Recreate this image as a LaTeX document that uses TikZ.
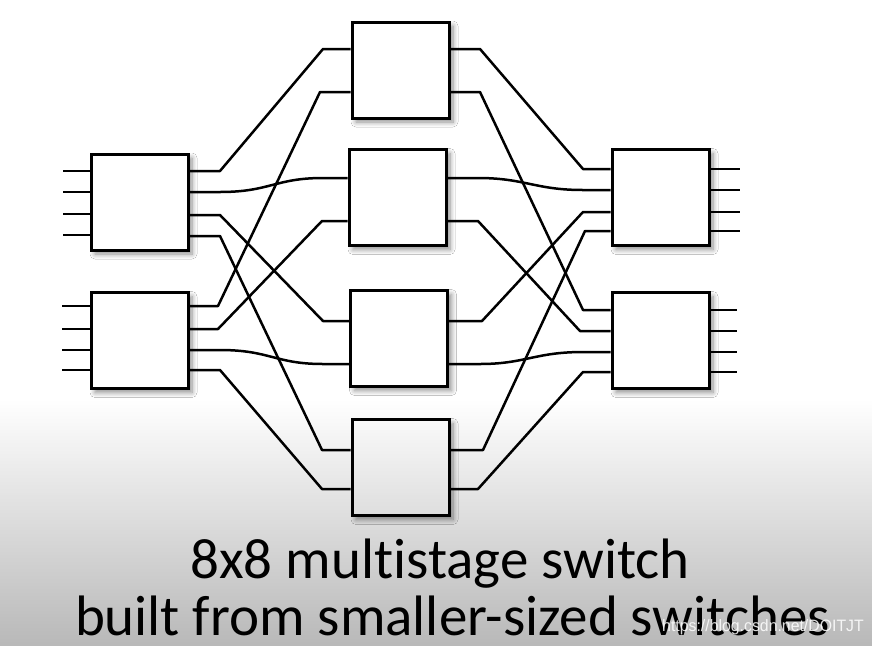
\documentclass[tikz,border=0pt]{standalone}
\usepackage{fontspec}
\setmainfont[Ligatures=NoCommon]{Carlito}
\newfontfamily\wmfont{Liberation Sans}
\usetikzlibrary{shadows.blur,fadings}
\tikzfading[name=fadedown, top color=transparent!100, bottom color=transparent!0]
\begin{document}
\begin{tikzpicture}[x=1pt,y=-1pt,
  swbox/.style={draw=black, line width=3pt, fill=white, minimum width=97pt, minimum height=96pt, inner sep=0pt,
    blur shadow={shadow xshift=4pt, shadow yshift=-4pt, shadow blur steps=8, shadow opacity=45, shadow blur radius=5pt}},
  wire/.style={line width=2.5pt, line join=round},
  caption/.style={font=\fontsize{57}{62}\selectfont, anchor=base, inner sep=0pt}]
\useasboundingbox (0,0) rectangle (872,646);
\fill[white] (0,0) rectangle (872,646);
% switches
\node[swbox] (L1) at (139.5,202) {};
\node[swbox] (L2) at (139.5,340.5) {};
\node[swbox] (M1) at (400.5,70) {};
\node[swbox] (M2) at (397.5,197.5) {};
\node[swbox] (M3) at (399,338.5) {};
\node[swbox] (M4) at (400.5,467.5) {};
\node[swbox] (R1) at (660.5,197.5) {};
\node[swbox] (R2) at (660.5,340.5) {};
% input stubs
\foreach \y in {171,192,214,235} {\coordinate (a\y) at (63,\y); \draw[wire] (a\y) -- (L1.west |- a\y);}
\foreach \y in {306,329,350,370} {\coordinate (a\y) at (62,\y); \draw[wire] (a\y) -- (L2.west |- a\y);}
% output stubs
\foreach \y in {169,190,212,231} {\coordinate (b\y) at (740,\y); \draw[wire] (R1.east |- b\y) -- (b\y);}
\foreach \y in {310,331,352,372} {\coordinate (b\y) at (737,\y); \draw[wire] (R2.east |- b\y) -- (b\y);}
% first stage to middle stage
\draw[wire] (L1.east |- 0,171) -- (220,171) -- (323,49) -- (M1.west |- 0,49);
\draw[wire] (L1.east |- 0,192) -- (220,192) .. controls (270,192) and (275,178) .. (323,178) -- (M2.west |- 0,178);
\draw[wire] (L1.east |- 0,215) -- (220,215) -- (323,321) -- (M3.west |- 0,321);
\draw[wire] (L1.east |- 0,236) -- (220,236) -- (322,450) -- (M4.west |- 0,450);
\draw[wire] (L2.east |- 0,306) -- (218,306) -- (320,92) -- (M1.west |- 0,92);
\draw[wire] (L2.east |- 0,329) -- (218,329) -- (322,221) -- (M2.west |- 0,221);
\draw[wire] (L2.east |- 0,350) -- (220,350) .. controls (270,350) and (275,364) .. (323,364) -- (M3.west |- 0,364);
\draw[wire] (L2.east |- 0,370) -- (220,370) -- (322,489) -- (M4.west |- 0,489);
% middle stage to last stage
\draw[wire] (M1.east |- 0,49) -- (480,49) -- (583,169) -- (R1.west |- 0,169);
\draw[wire] (M1.east |- 0,92) -- (480,92) -- (583,310) -- (R2.west |- 0,310);
\draw[wire] (M2.east |- 0,178) -- (478,178) .. controls (525,178) and (535,190) .. (583,190) -- (R1.west |- 0,190);
\draw[wire] (M2.east |- 0,221) -- (478,221) -- (580,331) -- (R2.west |- 0,331);
\draw[wire] (M3.east |- 0,321) -- (482,321) -- (583,212) -- (R1.west |- 0,212);
\draw[wire] (M3.east |- 0,364) -- (480,364) .. controls (525,364) and (535,352) .. (583,352) -- (R2.west |- 0,352);
\draw[wire] (M4.east |- 0,450) -- (483,450) -- (585,231) -- (R1.west |- 0,231);
\draw[wire] (M4.east |- 0,489) -- (478,489) -- (583,372) -- (R2.west |- 0,372);
% grey overlay
\fill[black, opacity=0.28, path fading=fadedown] (0,400) rectangle (872,646);
% caption
\node[caption] (t1) at (440,578) {8x8 multistage switch};
\node[caption] (t2) at (452.5,635) {built from smaller-sized switches};
\node[font=\wmfont\fontsize{16.5}{18}\selectfont, text=white, opacity=0.85, anchor=base west, inner sep=0pt] (wm) at (662,631) {\scalebox{0.96}[1]{https://blog.csdn.net/DOITJT}};
\end{tikzpicture}
\end{document}
